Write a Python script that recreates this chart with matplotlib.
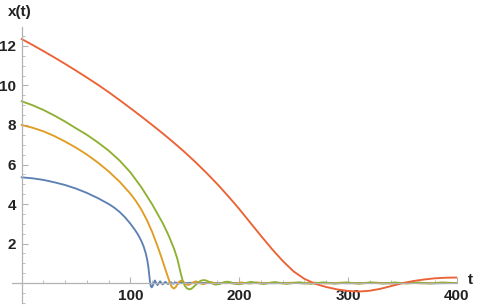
import matplotlib
matplotlib.use("Agg")
import matplotlib.pyplot as plt
from matplotlib.ticker import MultipleLocator, FixedLocator

# ---- data ----
blue_t = [0, 10, 20, 30, 40, 50, 60, 70, 80, 85, 90, 95, 100, 104, 107, 110, 112, 114, 115.5, 116.5,
          117.3, 118, 118.8, 119.6, 120.4, 121.4, 122.5, 123.7, 124.9, 126.1, 127.3, 128.5, 129.7,
          130.9, 132.1, 133.3, 134.5, 135.7, 136.9, 138.1, 139.3, 140.5, 141.7, 142.9, 144.1, 145.3,
          146.5, 150, 155, 160, 170, 180, 190, 200, 215, 230, 245, 260, 280, 300, 320, 340, 360, 380, 400]
blue_x = [5.35, 5.3, 5.22, 5.1, 4.96, 4.78, 4.56, 4.3, 4.0, 3.82, 3.6, 3.33, 3.0, 2.7, 2.45, 2.13, 1.87, 1.52, 1.15, 0.8,
          0.4, 0.05, -0.17, -0.22, -0.15, 0.0, 0.13, 0.0, -0.1, 0.0, 0.09, 0.0, -0.07,
          0.0, 0.06, 0.0, -0.05, 0.0, 0.045, 0.0, -0.035, 0.0, 0.03, 0.0, -0.025, 0.0,
          0.02, -0.01, 0.015, -0.01, 0.01, -0.01, 0.01, -0.01, 0.01, -0.01, 0.01, -0.01, 0.01, -0.01, 0.01, -0.01, 0.01, -0.01, 0.0]

orange_t = [0, 10, 20, 30, 40, 50, 60, 70, 80, 90, 100, 105, 110, 115, 120, 125, 128, 131, 134,
            136, 138, 140, 141.5, 143, 144.5, 146, 147.5, 149.5, 151.3, 153, 154.8, 156.5,
            158.2, 160, 163.5, 167, 170.5, 174, 177.5, 181, 184.5, 188, 195,
            202, 209, 216, 223, 230, 240, 250, 260, 270, 280, 295, 310, 325, 340, 355, 370, 385, 400]
orange_x = [8.0, 7.86, 7.68, 7.44, 7.16, 6.85, 6.5, 6.1, 5.65, 5.13, 4.52, 4.15, 3.72, 3.2, 2.58, 1.85, 1.38, 0.88, 0.38,
            0.06, -0.2, -0.28, -0.21, -0.08, 0.05, 0.11, 0.1, 0.03, -0.06, -0.1, -0.06, -0.01,
            0.05, 0.08, 0.0, -0.06, 0.0, 0.05, 0.0, -0.04, 0.0, 0.04, -0.03,
            0.03, -0.03, 0.03, -0.02, 0.02, -0.02, 0.02, -0.02, 0.02, -0.02, 0.02, -0.02, 0.02, -0.02, 0.02, -0.02, 0.02, 0.0]

green_t = [0, 10, 20, 30, 40, 50, 60, 70, 80, 90, 100, 110, 120, 130, 135, 140, 143,
           146, 148, 150, 152, 154, 156, 158, 160, 162, 164.5, 167, 169.5, 172, 175, 178, 181,
           183.5, 186, 189, 192, 194.5, 197, 200, 205.5, 211, 216.5, 222, 227.5, 233, 238.5,
           244, 249.5, 255, 266, 277, 288, 299, 310, 321, 332, 343, 354, 365, 376, 387, 400]
green_x = [9.2, 9.0, 8.76, 8.48, 8.17, 7.83, 7.5, 7.12, 6.7, 6.2, 5.6, 4.85, 3.98, 3.0, 2.42, 1.75, 1.25,
           0.55, 0.12, -0.14, -0.27, -0.32, -0.29, -0.2, -0.09, 0.02, 0.11, 0.15, 0.13, 0.07, -0.02, -0.08, -0.06,
           -0.01, 0.04, 0.07, 0.04, 0.0, -0.04, -0.06, 0.0, 0.06, 0.0, -0.05, 0.0, 0.05, 0.0,
           -0.04, 0.0, 0.04, -0.04, 0.035, -0.035, 0.03, -0.03, 0.03, -0.03, 0.03, -0.025, 0.025, -0.025, 0.02, 0.0]

red_t = [0, 10, 20, 30, 40, 50, 60, 70, 80, 90, 100, 110, 120, 130, 140, 150, 160, 170, 180, 190,
         200, 210, 220, 230, 240, 250, 260, 270, 280, 290, 300, 310, 320, 330, 340, 350, 360, 370,
         380, 390, 400]
red_x = [12.35, 12.05, 11.74, 11.42, 11.09, 10.75, 10.4, 10.04, 9.66, 9.26, 8.85, 8.43, 8.0, 7.56, 7.1,
         6.62, 6.11, 5.57, 5.0, 4.39, 3.75, 3.07, 2.39, 1.73, 1.12, 0.59, 0.21, -0.04, -0.2, -0.32,
         -0.4, -0.43, -0.39, -0.29, -0.15, -0.01, 0.1, 0.18, 0.24, 0.27, 0.28]

x_major = [100, 200, 300, 400]
y_major = [2, 4, 6, 8, 10, 12]

colors = {"blue": "#5E81B5", "orange": "#E19C24", "green": "#8FB032", "red": "#EB6235"}

W, H = 480, 307
fig = plt.figure(figsize=(W / 100, H / 100), dpi=100)
left = 11.7 / W
right = 456.7 / W
top = 1 - 27 / H
bottom = 1 - 303 / H
ax = fig.add_axes([left, bottom, right - left, top - bottom])
ax.set_xlim(-9.2, 400)
ax.set_ylim(-1.01, 12.96)

lw = 1.35
ax.plot(blue_t, blue_x, color=colors["blue"], lw=lw, solid_joinstyle="round")
ax.plot(orange_t, orange_x, color=colors["orange"], lw=lw, solid_joinstyle="round")
ax.plot(green_t, green_x, color=colors["green"], lw=lw, solid_joinstyle="round")
ax.plot(red_t, red_x, color=colors["red"], lw=lw, solid_joinstyle="round")

axis_col = "#b3b3b3"
for s in ["top", "right"]:
    ax.spines[s].set_visible(False)
ax.spines["left"].set_position(("data", 0))
ax.spines["bottom"].set_position(("data", 0))
for s in ["left", "bottom"]:
    ax.spines[s].set_color(axis_col)
    ax.spines[s].set_linewidth(0.9)

ax.xaxis.set_major_locator(FixedLocator(x_major))
ax.xaxis.set_minor_locator(MultipleLocator(20))
ax.yaxis.set_major_locator(FixedLocator(y_major))
ax.yaxis.set_minor_locator(MultipleLocator(0.5))
ax.tick_params(axis="both", which="major", direction="in", length=4, width=0.8, color=axis_col,
               labelsize=11, labelcolor="#222222", pad=4)
ax.tick_params(axis="both", which="minor", direction="in", length=2.5, width=0.6, color=axis_col)
for lab in ax.get_xticklabels() + ax.get_yticklabels():
    lab.set_fontweight("bold")
    lab.set_fontfamily("Liberation Sans")

ax.patch.set_visible(False)
fig.text(20 / W, 1 - 12 / H, "x(t)", ha="center", va="center", fontsize=11, fontweight="bold",
         family="Liberation Sans", color="#222222")
fig.text(470 / W, 1 - 280 / H, "t", ha="center", va="center", fontsize=11, fontweight="bold",
         family="Liberation Sans", color="#222222")

fig.savefig("out.png", dpi=100)
